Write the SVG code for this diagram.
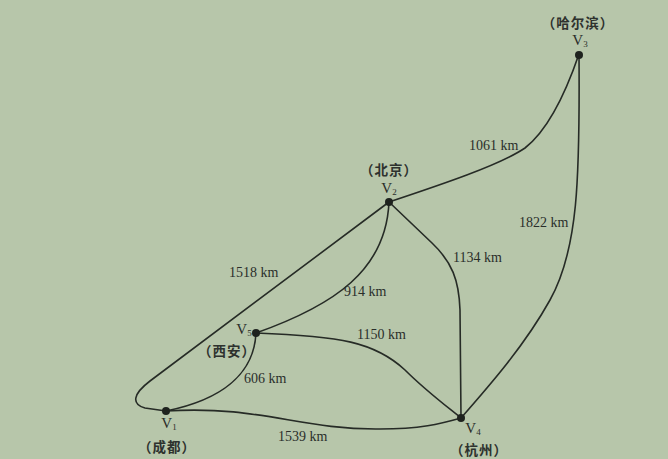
<svg xmlns="http://www.w3.org/2000/svg" width="668" height="459" viewBox="0 0 668 459">
<style>
.bg{fill:#b7c6aa}
.e{fill:none;stroke:#262b26;stroke-width:1.6;stroke-linecap:round}
.dot{fill:#1e221e}
.lbl{font-family:"Liberation Serif","DejaVu Serif",serif;font-size:14px;fill:#2a2e2a}
.v{font-family:"Liberation Serif","DejaVu Serif",serif;font-size:15px;fill:#2a2e2a;text-anchor:middle}
.sub{font-size:9px}
.cn{font-family:"Noto Sans CJK SC","Noto Sans",sans-serif;font-size:13.5px;font-weight:bold;fill:#2e322e;text-anchor:middle;letter-spacing:1px}
</style>
<rect class="bg" x="0" y="0" width="668" height="459"/>
<g id="edges">
<path id="e23" class="e" d="M389,202 C440,185 500,165 525,148 C548,130 565,95 579,54"/>
<path id="e34" class="e" d="M579,54 C580,180 578,250 550,300 C525,345 490,385 461,418"/>
<path id="e24" class="e" d="M389,202 L432,243 C452,262 459,280 460,310 L461,418"/>
<path id="e25" class="e" d="M389,202 C386,270 335,305 256,333"/>
<path id="e21" class="e" d="M389,202 L150,381 C133,394 131,404 145,408 L166,411"/>
<path id="e51" class="e" d="M256,333 C254,375 220,400 166,411"/>
<path id="e54" class="e" d="M256,333 C340,336 375,342 405,370 C425,390 445,405 461,418"/>
<path id="e14" class="e" d="M166,411 C260,405 300,430 380,429 C420,429 440,424 461,418"/>
<text class="lbl" x="469" y="150">1061 km</text>
<text class="lbl" x="519" y="227">1822 km</text>
<text class="lbl" x="453" y="262">1134 km</text>
<text class="lbl" x="229" y="277">1518 km</text>
<text class="lbl" x="344" y="296">914 km</text>
<text class="lbl" x="357" y="339">1150 km</text>
<text class="lbl" x="244" y="383">606 km</text>
<text class="lbl" x="278" y="441">1539 km</text>
</g>
<g id="V3">
<circle class="dot" cx="579" cy="55" r="4"/>
<text class="v" x="580" y="45">V<tspan class="sub" dy="2">3</tspan></text>
<text class="cn" x="578" y="28">（哈尔滨）</text>
</g>
<g id="V2">
<circle class="dot" cx="389" cy="202" r="4"/>
<text class="v" x="389" y="193">V<tspan class="sub" dy="2">2</tspan></text>
<text class="cn" x="389" y="175">（北京）</text>
</g>
<g id="V5">
<circle class="dot" cx="256" cy="333" r="4"/>
<text class="v" x="244" y="334">V<tspan class="sub" dy="2">5</tspan></text>
<text class="cn" x="227" y="356">（西安）</text>
</g>
<g id="V1">
<circle class="dot" cx="166" cy="411" r="4"/>
<text class="v" x="169" y="428">V<tspan class="sub" dy="2">1</tspan></text>
<text class="cn" x="167" y="452">（成都）</text>
</g>
<g id="V4">
<circle class="dot" cx="461" cy="418" r="4"/>
<text class="v" x="473" y="433">V<tspan class="sub" dy="2">4</tspan></text>
<text class="cn" x="479" y="455">（杭州）</text>
</g>
</svg>
